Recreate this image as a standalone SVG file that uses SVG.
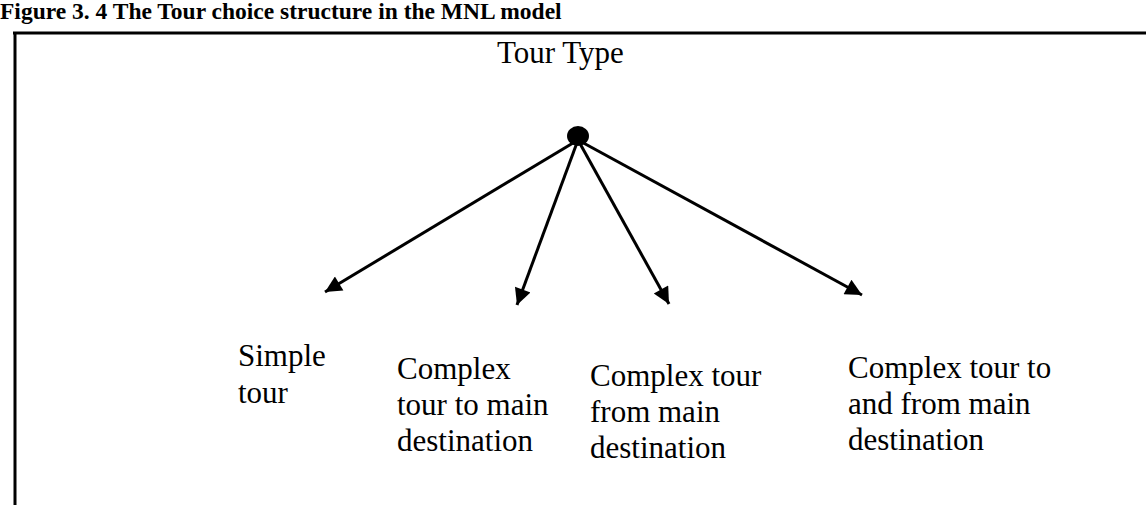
<svg xmlns="http://www.w3.org/2000/svg" width="1146" height="505" viewBox="0 0 1146 505">
<style>
.t{font-family:"Liberation Serif","Times New Roman",serif;font-size:31px;fill:#000}
.title{font-family:"Liberation Serif","Times New Roman",serif;font-size:23.5px;font-weight:bold;fill:#000}
.edge{stroke:#000;stroke-width:3;fill:none;marker-end:url(#arr)}
</style>
<defs>
<marker id="arr" viewBox="0 0 10 10" refX="10" refY="5" markerWidth="6.5" markerHeight="5.5" markerUnits="strokeWidth" orient="auto">
<path d="M0,0 L10,5 L0,10 z" fill="#000"/>
</marker>
</defs>
<rect width="1146" height="505" fill="#fff"/>
<text class="title" x="0" y="19">Figure 3. 4 The Tour choice structure in the MNL model</text>
<g id="frame" stroke="#000" stroke-width="3" fill="none">
<line x1="13" y1="33" x2="1146" y2="33"/>
<line x1="15" y1="33" x2="15" y2="505"/>
</g>
<g id="root">
<text class="t" x="497" y="63">Tour Type</text>
<ellipse cx="578" cy="136" rx="11" ry="10" fill="#000"/>
</g>
<g id="connectors">
<line class="edge" x1="578" y1="140" x2="325" y2="292"/>
<line class="edge" x1="578" y1="140" x2="517" y2="305"/>
<line class="edge" x1="578" y1="140" x2="669" y2="304"/>
<line class="edge" x1="578" y1="140" x2="862" y2="295"/>
</g>
<g id="simple">
<text class="t" x="238" y="366">Simple</text>
<text class="t" x="238" y="403">tour</text>
</g>
<g id="complex-to">
<text class="t" x="397" y="379">Complex</text>
<text class="t" x="397" y="415">tour to main</text>
<text class="t" x="397" y="451">destination</text>
</g>
<g id="complex-from">
<text class="t" x="590" y="386">Complex tour</text>
<text class="t" x="590" y="422">from main</text>
<text class="t" x="590" y="458">destination</text>
</g>
<g id="complex-to-from">
<text class="t" x="848" y="378">Complex tour to</text>
<text class="t" x="848" y="414">and from main</text>
<text class="t" x="848" y="450">destination</text>
</g>
</svg>
